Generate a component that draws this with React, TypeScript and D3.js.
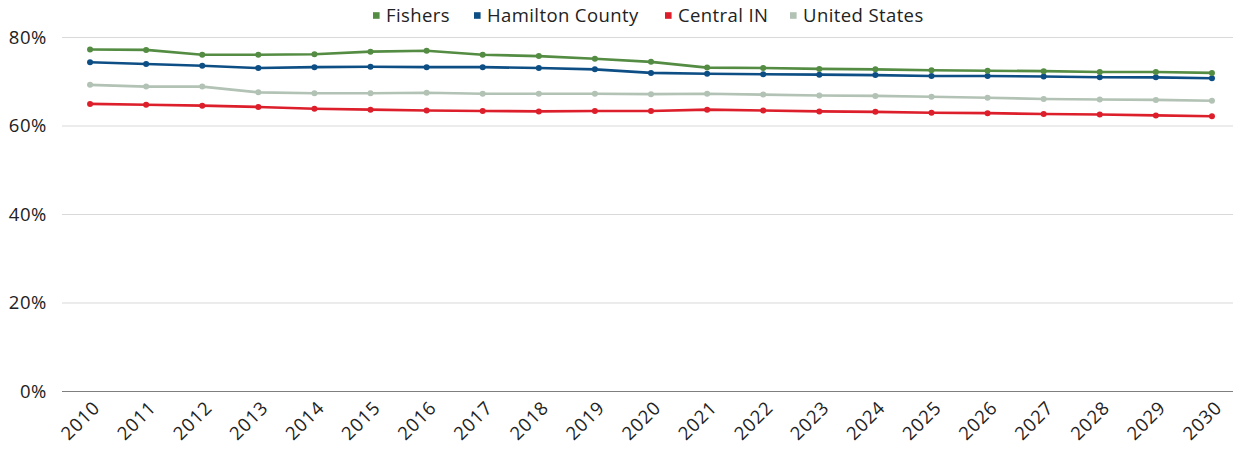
import React from "react";
import * as d3 from "d3";

const years = [
  "2010", "2011", "2012", "2013", "2014", "2015", "2016", "2017", "2018", "2019", "2020",
  "2021", "2022", "2023", "2024", "2025", "2026", "2027", "2028", "2029", "2030",
];

const fishers = [
  77.3, 77.2, 76.1, 76.1, 76.2, 76.8, 77.0, 76.1, 75.8, 75.2, 74.5,
  73.2, 73.1, 72.9, 72.8, 72.6, 72.5, 72.4, 72.2, 72.2, 72.0,
];
const hamilton = [
  74.4, 74.0, 73.6, 73.1, 73.3, 73.4, 73.3, 73.3, 73.1, 72.8, 72.0,
  71.8, 71.7, 71.6, 71.5, 71.3, 71.3, 71.2, 71.0, 71.0, 70.8,
];
const centralIN = [
  65.0, 64.8, 64.6, 64.3, 63.9, 63.7, 63.5, 63.4, 63.3, 63.4, 63.4,
  63.7, 63.5, 63.3, 63.2, 63.0, 62.9, 62.7, 62.6, 62.4, 62.2,
];
const unitedStates = [
  69.3, 68.9, 68.9, 67.6, 67.4, 67.4, 67.5, 67.3, 67.3, 67.3, 67.2,
  67.3, 67.1, 66.9, 66.8, 66.6, 66.4, 66.1, 66.0, 65.9, 65.7,
];

const yTicks = [0, 20, 40, 60, 80];

const seriesNames = ["Fishers", "Hamilton County", "Central IN", "United States"];
const seriesColors = ["#538c42", "#0d4e85", "#dc1f2b", "#b2c2b4"];
const seriesValues = [fishers, hamilton, centralIN, unitedStates];
// United States is drawn first so the other lines sit above it
const drawOrder = [3, 2, 1, 0];

const W = 1233;
const H = 449;
const FONT = "'Open Sans', sans-serif";

export default function App() {
  const x = d3.scaleBand<string>().domain(years).range([62, 1240]);
  const y = d3.scaleLinear().domain([0, 80]).range([391.5, 37.5]);
  const cx = (yr: string) => (x(yr) as number) + x.bandwidth() / 2;

  const line = d3
    .line<number>()
    .x((_, i) => cx(years[i]))
    .y((v) => y(v));

  const legendTextX = [386, 487, 678, 803];

  return (
    <svg
      width={W}
      height={H}
      style={{ position: "absolute", left: 0, top: 0, background: "#fff" }}
      fontFamily={FONT}
    >
      {yTicks.map((t) => (
        <g key={t}>
          {t > 0 && (
            <line x1={62} x2={1240} y1={y(t)} y2={y(t)} stroke="#d9d9d9" strokeWidth={1} />
          )}
          <text
            x={47}
            y={y(t)}
            dy="0.35em"
            textAnchor="end"
            fontSize={18.5}
            letterSpacing={0.6}
            fill="#222"
          >
            {t}%
          </text>
        </g>
      ))}
      <line x1={62} x2={1240} y1={y(0)} y2={y(0)} stroke="#7f7f7f" strokeWidth={1.2} />

      {years.map((yr) => (
        <text
          key={yr}
          transform={`translate(${cx(yr) + 11},${409}) rotate(-45)`}
          textAnchor="end"
          fontSize={18.5}
          letterSpacing={0.8}
          fill="#222"
        >
          {yr}
        </text>
      ))}

      {drawOrder.map((si) => (
        <g key={seriesNames[si]}>
          <path
            d={line(seriesValues[si]) as string}
            fill="none"
            stroke={seriesColors[si]}
            strokeWidth={2.6}
            strokeLinejoin="round"
          />
          {seriesValues[si].map((v, i) => (
            <circle key={i} cx={cx(years[i])} cy={y(v)} r={3} fill={seriesColors[si]} />
          ))}
        </g>
      ))}

      {seriesNames.map((n, i) => (
        <g key={n} transform={`translate(${legendTextX[i]},15.5)`}>
          <rect x={-13} y={-3.3} width={6.6} height={6.6} fill={seriesColors[i]} />
          <text x={0} y={0} dy="0.35em" fontSize={18.5} letterSpacing={0.4} fill="#222">
            {n}
          </text>
        </g>
      ))}
    </svg>
  );
}
